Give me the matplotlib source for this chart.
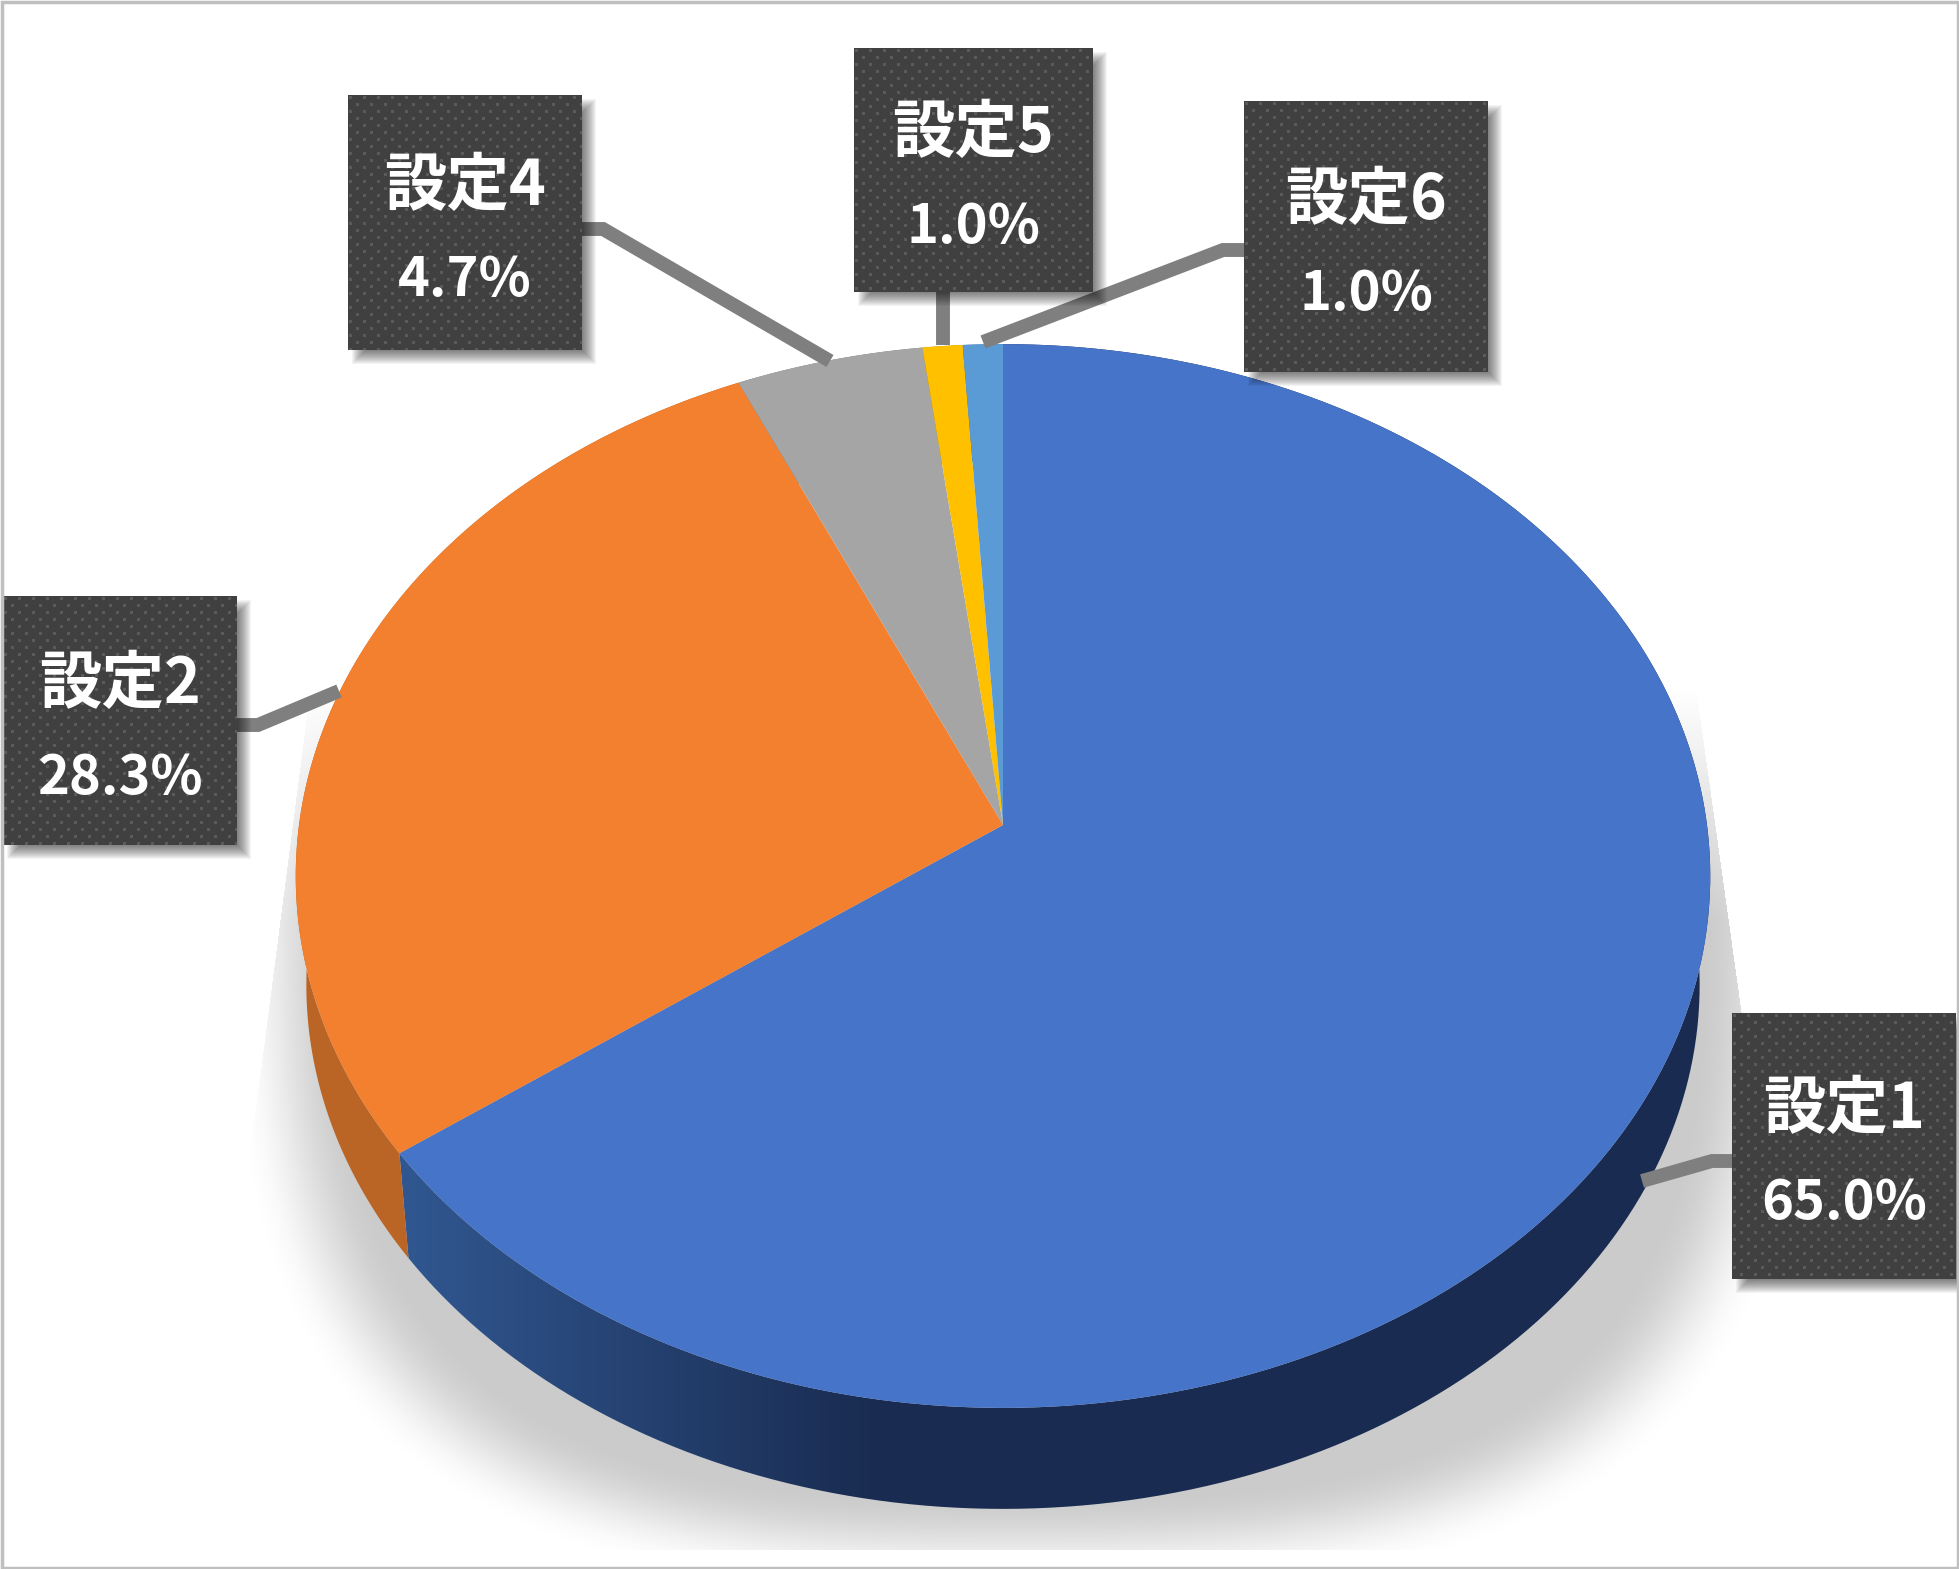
import numpy as np
import matplotlib
matplotlib.use("Agg")
import matplotlib.pyplot as plt
from matplotlib.patches import Polygon, Rectangle
from matplotlib.transforms import Transform

plt.rcParams["font.family"] = ["Noto Sans CJK JP", "DejaVu Sans"]

names = ["設定1", "設定2", "設定4", "設定5", "設定6"]
shares = [65.0, 28.3, 4.7, 1.0, 1.0]
top_colors = ["#4674c8", "#f2802f", "#a5a5a5", "#ffc000", "#5b9bd5"]
side_left = ["#30568f", "#ba6526", "#7a7a7a", "#b08600", "#3f6f9c"]
side_right = ["#192b50", "#ab5a20", "#7a7a7a", "#b08600", "#3f6f9c"]

# label boxes: x0, x1, y0, y1 in image pixels
boxes = [(1732, 1956, 1013, 1279), (3, 237, 596, 845), (348, 582, 95, 350),
         (854, 1093, 48, 292), (1244, 1488, 101, 372)]
leaders = [[(1732, 1161), (1712, 1161), (1642, 1181)],
           [(237, 725), (258, 725), (339, 691)],
           [(582, 229), (603, 229), (830, 361)],
           [(943, 292), (943, 345)],
           [(1244, 250), (1223, 250), (983, 342)]]

W, H = 1959, 1569
CX, CY = 1003, 825
KX, KY, TILT = 704, 527, 0.0959
DROP, VANISH = 0.985, 8140


class Tilt(Transform):
    # unit circle to the tilted disc on the image
    input_dims = output_dims = 2

    def transform_non_affine(self, xy):
        xy = np.asarray(xy)
        w = 1 + TILT * xy[:, 1]
        return np.column_stack([CX + KX * xy[:, 0] / w, CY - KY * xy[:, 1] / w])


fig = plt.figure(figsize=(W / 100, H / 100), dpi=100)
ax = fig.add_axes([0, 0, 1, 1])
wedges, _ = ax.pie(shares, colors=top_colors, startangle=90, counterclock=False)
ax.set_aspect("auto")
ax.set_xlim(0, W)
ax.set_ylim(H, 0)
ax.set_autoscale_on(False)
ax.axis("off")
tilt = Tilt()

# ground shadow
yy, xx = np.mgrid[0:H, 0:W]
r = (np.abs((xx - 1020) / 790) ** 3 + np.abs((yy - 900) / 690) ** 3) ** (1 / 3)
a = np.clip((1.0 - r) / 0.14, 0, 1)
a = a * a * (3 - 2 * a)
a = a * np.clip((yy - 690) / 230, 0, 1)
a[xx < 306 - 0.13 * (yy - 720)] = 0
a[xx > 1703 + 0.14 * (yy - 740)] = 0
a[yy > 1549] = 0
shadow = np.zeros((H, W, 4))
shadow[..., :3] = 0xcb / 255
shadow[..., 3] = a
ax.imshow(shadow, extent=(0, W, H, 0), aspect="auto", zorder=0.5)

# side wall, from the rim of each wedge
for w, c0, c1 in zip(wedges, side_left, side_right):
    t = np.radians(np.linspace(w.theta1, w.theta2, 200))
    rim = tilt.transform_non_affine(np.column_stack([np.cos(t), np.sin(t)]))
    low = np.column_stack([CX + DROP * (rim[:, 0] - CX),
                           VANISH + DROP * (rim[:, 1] - VANISH)])
    poly = Polygon(np.vstack([rim, low[::-1]]), closed=True, fc="none", ec="none",
                   transform=ax.transData)
    ax.add_patch(poly)
    c0 = np.array(matplotlib.colors.to_rgb(c0))
    c1 = np.array(matplotlib.colors.to_rgb(c1))
    f = np.clip((np.arange(W) - 416) / (880 - 416), 0, 1)[None, :, None]
    img = ax.imshow(c0 + (c1 - c0) * f, extent=(0, W, H, 0), aspect="auto", zorder=1)
    img.set_clip_path(poly)

# top of the disc
for w in wedges:
    w.set_transform(tilt + ax.transData)
    w.set_zorder(2)
    w.set_edgecolor("none")

# leader lines
for pts in leaders:
    pts = np.array(pts)
    ax.plot(pts[:, 0], pts[:, 1], color="#7f7f7f", lw=10, solid_capstyle="butt",
            solid_joinstyle="miter", zorder=3)

# label boxes
tile = np.zeros((14, 14, 3)) + 0x40 / 255
tile[1:4, 1:4] = 0x5a / 255
tile[8:11, 8:11] = 0x5a / 255
for name, share, (x0, x1, y0, y1) in zip(names, shares, boxes):
    for i in range(14):
        ax.add_patch(Rectangle((x0 + 4 + i, y0 + 4 + i),
                               x1 - x0 + 10 - 2 * i, y1 - y0 + 10 - 2 * i,
                               fc="black", ec="none", alpha=0.045, zorder=4))
    ny, nx = y1 - y0, x1 - x0
    pat = np.tile(tile, (ny // 14 + 1, nx // 14 + 1, 1))[:ny, :nx]
    ax.imshow(pat, extent=(x0, x1, y1, y0), aspect="auto", interpolation="nearest", zorder=5)
    xc = (x0 + x1) / 2
    yc = (y0 + y1) / 2
    ax.text(xc, yc - 36, name, color="white", fontsize=45, fontweight="bold",
            ha="center", va="center", zorder=6)
    ax.text(xc, yc + 58, f"{share:.1f}%", color="white", fontsize=39, fontweight="bold",
            ha="center", va="center", zorder=6)

# chart border
ax.add_patch(Rectangle((1.5, 1.5), W - 3, H - 3, fc="none", ec="#bfbfbf", lw=2.5, zorder=7))

fig.savefig("out.png", dpi=100, facecolor="white")
